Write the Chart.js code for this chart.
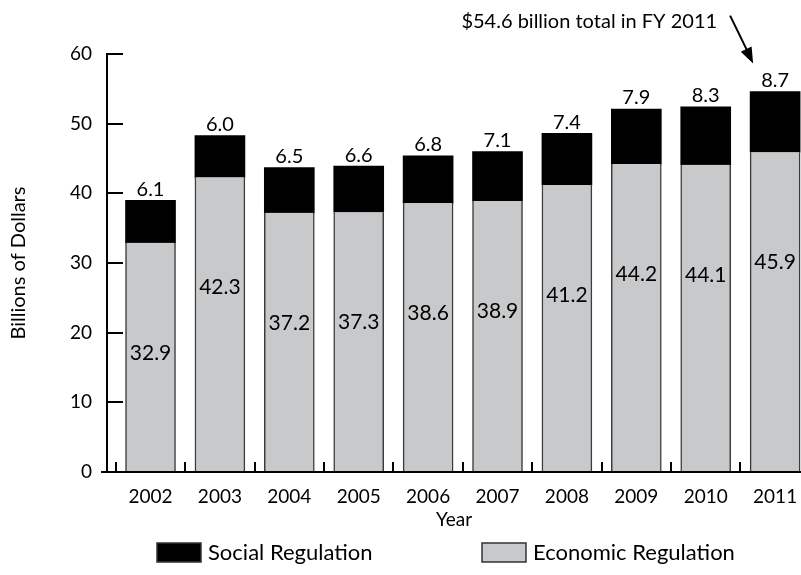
<!DOCTYPE html>
<html>
<head>
<meta charset="utf-8">
<script src="https://cdn.jsdelivr.net/npm/chart.js@4.4.1/dist/chart.umd.min.js"></script>
<style>
html, body { margin: 0; padding: 0; background: #fff; }
#wrap { width: 801px; height: 575px; }
</style>
</head>
<body>
<div id="wrap"><canvas id="chart"></canvas></div>
<script>
var years = [2002, 2003, 2004, 2005, 2006, 2007, 2008, 2009, 2010, 2011];
var economic = [32.9, 42.3, 37.2, 37.3, 38.6, 38.9, 41.2, 44.2, 44.1, 45.9];
var social = [6.1, 6.0, 6.5, 6.6, 6.8, 7.1, 7.4, 7.9, 8.3, 8.7];
var yTicks = [0, 10, 20, 30, 40, 50, 60];
var noteText = "$54.6 billion total in FY 2011";

Chart.defaults.font.family = "Lato, 'Open Sans', sans-serif";
Chart.defaults.color = "#000";

function points(vals) {
    var out = [];
    for (var i = 0; i < years.length; ++i) out.push({x: years[i], y: vals[i]});
    return out;
}

var decor = {
    id: "decor",
    afterDatasetsDraw: function(chart) {
        var ctx = chart.ctx;
        var eco = chart.getDatasetMeta(0).data;
        var soc = chart.getDatasetMeta(1).data;
        ctx.save();
        ctx.fillStyle = "#000";
        ctx.textAlign = "center";
        ctx.textBaseline = "middle";
        for (var i = 0; i < years.length; ++i) {
            ctx.font = "21px Lato";
            ctx.fillText(economic[i].toFixed(1), eco[i].x, eco[i].y + 110);
            ctx.font = "20px Lato";
            ctx.fillText(social[i].toFixed(1), soc[i].x, soc[i].y - 11);
        }
        ctx.restore();
    },
    afterDraw: function(chart) {
        var ctx = chart.ctx;
        var area = chart.chartArea;
        var xs = chart.scales.x, ys = chart.scales.y;
        ctx.save();
        ctx.strokeStyle = "#000";
        ctx.lineWidth = 2;
        ctx.beginPath();
        // inward y ticks
        for (var i = 0; i < yTicks.length; ++i) {
            var py = Math.round(ys.getPixelForValue(yTicks[i]));
            ctx.moveTo(area.left, py);
            ctx.lineTo(area.left + 16, py);
        }
        // small x ticks between bars
        for (var j = 0; j < years.length; ++j) {
            var px = Math.round(xs.getPixelForValue(years[j] - 0.5));
            ctx.moveTo(px, area.bottom);
            ctx.lineTo(px, area.bottom - 10);
        }
        ctx.moveTo(area.left - 6, area.bottom);
        ctx.lineTo(area.right, area.bottom);
        ctx.stroke();

        // legend
        var items = [
            {ds: chart.data.datasets[1], x: 157},
            {ds: chart.data.datasets[0], x: 482}
        ];
        ctx.font = "22px Lato";
        ctx.textAlign = "left";
        ctx.textBaseline = "middle";
        items.forEach(function(it) {
            ctx.fillStyle = it.ds.backgroundColor;
            ctx.fillRect(it.x, 543, 44, 19);
            ctx.lineWidth = 1.5;
            ctx.strokeStyle = "#333";
            ctx.strokeRect(it.x, 543, 44, 19);
            ctx.fillStyle = "#000";
            ctx.fillText(it.ds.label, it.x + 51, 553);
        });

        // note with arrow to the FY 2011 bar
        var last = years.length - 1;
        var tipX = xs.getPixelForValue(years[last]) - 22;
        var tipY = ys.getPixelForValue(economic[last] + social[last]) - 28;
        var startX = tipX - 23, startY = tipY - 48;
        ctx.strokeStyle = "#000";
        ctx.lineWidth = 2;
        ctx.beginPath();
        ctx.moveTo(startX, startY);
        ctx.lineTo(tipX - 4, tipY - 9);
        ctx.stroke();
        var ang = Math.atan2(tipY - startY, tipX - startX);
        ctx.fillStyle = "#000";
        ctx.beginPath();
        ctx.moveTo(tipX, tipY);
        ctx.lineTo(tipX - 16 * Math.cos(ang) + 6 * Math.sin(ang), tipY - 16 * Math.sin(ang) - 6 * Math.cos(ang));
        ctx.lineTo(tipX - 16 * Math.cos(ang) - 6 * Math.sin(ang), tipY - 16 * Math.sin(ang) + 6 * Math.cos(ang));
        ctx.closePath();
        ctx.fill();
        ctx.font = "20px Lato";
        ctx.textAlign = "right";
        ctx.fillText(noteText, startX - 13, 22);
        ctx.restore();
    }
};

new Chart(document.getElementById("chart"), {
    type: "bar",
    data: {
        datasets: [{
            label: "Economic Regulation",
            data: points(economic),
            backgroundColor: "#c8c9cb",
            borderColor: "#3c3c3c",
            borderWidth: {left: 1.5, right: 1.5, top: 0, bottom: 0},
            barThickness: 50
        }, {
            label: "Social Regulation",
            data: points(social),
            backgroundColor: "#000",
            borderWidth: 0,
            barThickness: 50
        }]
    },
    options: {
        responsive: true,
        maintainAspectRatio: false,
        animation: false,
        layout: {padding: {top: 54, left: 0, right: 0, bottom: 0}},
        plugins: {legend: {display: false}, tooltip: {enabled: false}},
        scales: {
            x: {
                type: "linear",
                stacked: true,
                offset: false,
                min: 2001.373,
                max: 2011.373,
                afterBuildTicks: function(s) { s.ticks = years.map(function(v) { return {value: v}; }); },
                afterFit: function(s) { s.height = 103; s.paddingLeft = 0; s.paddingRight = 0; },
                grid: {display: false, drawTicks: false, offset: false},
                border: {display: false},
                ticks: {padding: 13, autoSkip: false, maxRotation: 0, font: {size: 19}, color: "#000",
                        callback: function(v) { return String(v); }},
                title: {display: true, text: "Year", font: {size: 19}, color: "#000", padding: {top: 0, bottom: 44}}
            },
            y: {
                stacked: true,
                min: 0,
                max: 60,
                afterBuildTicks: function(s) { s.ticks = yTicks.map(function(v) { return {value: v}; }); },
                afterFit: function(s) { s.width = 107; },
                grid: {display: false, drawTicks: false},
                border: {display: true, color: "#000", width: 2},
                ticks: {padding: 15, font: {size: 19}, color: "#000"},
                title: {display: true, text: "Billions of Dollars", font: {size: 20}, color: "#000", padding: {top: 7, bottom: 0}}
            }
        }
    },
    plugins: [decor]
});
</script>
</body>
</html>
